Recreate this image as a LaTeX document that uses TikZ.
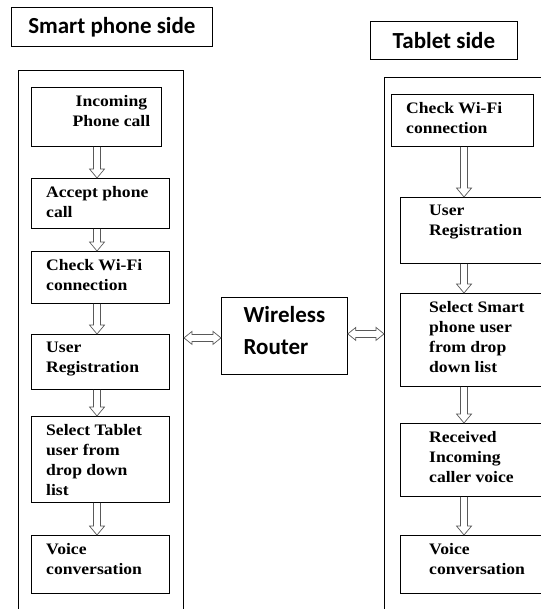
\documentclass[tikz,border=0pt]{standalone}
\usepackage{fontspec}
\setmainfont{Liberation Serif}
\newfontfamily\stepfont[FakeStretch=1.1]{Liberation Serif}
\newfontfamily\headfont{Carlito}
\usetikzlibrary{calc,positioning}

% hollow block arrow going down: column point, upper node, lower node
\newcommand{\flowarrow}[3]{%
  \draw[arrowline] let \p1=(#1), \p2=(#2.south), \p3=(#3.north) in
    (\x1-3.5pt,\y2) -- (\x1-3.5pt,\y3+9pt) -- (\x1-7.5pt,\y3+9pt) -- (\x1,\y3)
    -- (\x1+7.5pt,\y3+9pt) -- (\x1+3.5pt,\y3+9pt) -- (\x1+3.5pt,\y2);}
% hollow double headed arrow: left point, right point, height point
\newcommand{\linkarrow}[3]{%
  \draw[arrowline] let \p1=#1, \p2=#2, \p3=#3 in
    (\x1,\y3) -- (\x1+8pt,\y3+6.5pt) -- (\x1+8pt,\y3+3.5pt) -- (\x2-8pt,\y3+3.5pt)
    -- (\x2-8pt,\y3+6.5pt) -- (\x2,\y3) -- (\x2-8pt,\y3-6.5pt) -- (\x2-8pt,\y3-3.5pt)
    -- (\x1+8pt,\y3-3.5pt) -- (\x1+8pt,\y3-6.5pt) -- cycle;}

\begin{document}
\begin{tikzpicture}[x=1pt,y=-1pt,
    stepbox/.style={draw, line width=0.8pt, inner sep=0pt, anchor=north west},
    steptext/.style={anchor=north west, inner sep=0pt, xshift=15pt, yshift=-8pt,
      align=left, font=\stepfont\bfseries\fontsize{16}{20}\selectfont},
    headbox/.style={draw, line width=0.8pt, inner sep=0pt, anchor=north west,
      font=\headfont\bfseries\fontsize{23}{32}\selectfont},
    panel/.style={draw, line width=1pt, inner sep=0pt, anchor=north west},
    arrowline/.style={draw=black!65, line width=0.7pt, line join=miter}]
  \useasboundingbox (0,0) rectangle (540,609);
  % headings
  \node[headbox, minimum width=201pt, minimum height=39pt] (phonehead) at (11,7) {Smart phone side};
  \node[headbox, minimum width=147pt, minimum height=38pt] (tablethead) at (370,21) {Tablet side};
  % panels
  \node[panel, minimum width=165pt, minimum height=560pt] (phonepanel) at (18,70) {};
  \node[panel, minimum width=170pt, minimum height=560pt] (tabletpanel) at (384,77) {};
  % router
  \node[headbox, minimum width=126pt, minimum height=77pt, align=left, text depth=10pt] (router) at (221,297) {Wireless\\Router};
  % smart phone side
  \coordinate (colL) at (97,0);
  \node[stepbox, minimum width=130pt, minimum height=59pt,
    label={[steptext, anchor=north, xshift=0pt, align=center]north:{Incoming\\Phone call}}] (callin) at (31,87) {};
  \node[stepbox, minimum width=138pt, minimum height=50pt,
    label={[steptext]north west:{Accept phone\\call}}] (accept) at (31,178) {};
  \node[stepbox, minimum width=138pt, minimum height=52pt,
    label={[steptext]north west:{Check Wi-Fi\\connection}}] (wifiL) at (31,251) {};
  \node[stepbox, minimum width=138pt, minimum height=55pt,
    label={[steptext]north west:{User\\Registration}}] (regL) at (31,334) {};
  \node[stepbox, minimum width=138pt, minimum height=86pt,
    label={[steptext]north west:{Select Tablet\\user from\\drop down\\list}}] (selectL) at (31,416) {};
  \node[stepbox, minimum width=138pt, minimum height=58pt,
    label={[steptext]north west:{Voice\\conversation}}] (voiceL) at (31,535) {};
  % tablet side
  \coordinate (colR) at (464,0);
  \node[stepbox, minimum width=142pt, minimum height=52pt,
    label={[steptext]north west:{Check Wi-Fi\\connection}}] (wifiR) at (391,94) {};
  \node[stepbox, minimum width=150pt, minimum height=66pt,
    label={[steptext, xshift=14pt]north west:{User\\Registration}}] (regR) at (400,197) {};
  \node[stepbox, minimum width=150pt, minimum height=93pt,
    label={[steptext, xshift=14pt]north west:{Select Smart\\phone user\\from drop\\down list}}] (selectR) at (400,293) {};
  \node[stepbox, minimum width=150pt, minimum height=73pt,
    label={[steptext, xshift=14pt]north west:{Received\\Incoming\\caller voice}}] (receive) at (400,423) {};
  \node[stepbox, minimum width=150pt, minimum height=58pt,
    label={[steptext, xshift=14pt]north west:{Voice\\conversation}}] (voiceR) at (400,535) {};
  % arrows
  \flowarrow{colL}{callin}{accept}
  \flowarrow{colL}{accept}{wifiL}
  \flowarrow{colL}{wifiL}{regL}
  \flowarrow{colL}{regL}{selectL}
  \flowarrow{colL}{selectL}{voiceL}
  \flowarrow{colR}{wifiR}{regR}
  \flowarrow{colR}{regR}{selectR}
  \flowarrow{colR}{selectR}{receive}
  \flowarrow{colR}{receive}{voiceR}
  \linkarrow{(phonepanel.east)}{(router.west)}{($(router.west)+(0,2)$)}
  \linkarrow{(router.east)}{(tabletpanel.west)}{($(router.east)+(0,-2)$)}
\end{tikzpicture}
\end{document}
